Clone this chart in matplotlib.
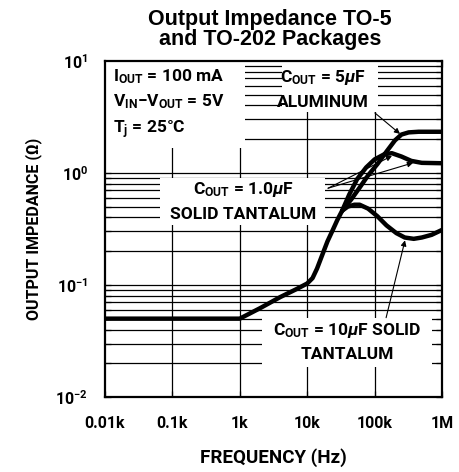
import numpy as np
import matplotlib
matplotlib.use("Agg")
import matplotlib.pyplot as plt
from matplotlib.patches import Rectangle
from matplotlib.ticker import FixedLocator, LogLocator, NullFormatter

# shared part of the curve, up to where the three capacitors split
freq_common = [10, 1000, 2000, 4000, 7000, 10000, 12000, 14000, 17000, 20000, 24000, 28000, 33000]
z_common = [0.05, 0.05, 0.062, 0.078, 0.092, 0.103, 0.115, 0.14, 0.19, 0.245, 0.31, 0.38, 0.46]

freq_10u = [33000, 40000, 50000, 60000, 80000, 110000, 150000, 210000, 280000, 380000, 500000, 700000, 1e6]
z_10u = [0.46, 0.5, 0.52, 0.52, 0.48, 0.41, 0.34, 0.29, 0.265, 0.258, 0.265, 0.28, 0.31]

freq_1u = [33000, 42000, 55000, 75000, 100000, 140000, 180000, 250000, 350000, 500000, 1e6]
z_1u = [0.46, 0.64, 0.88, 1.12, 1.32, 1.47, 1.5, 1.4, 1.28, 1.23, 1.22]

freq_5u = [33000, 45000, 60000, 80000, 110000, 150000, 200000, 250000, 320000, 450000, 1e6]
z_5u = [0.46, 0.58, 0.74, 0.95, 1.2, 1.55, 1.95, 2.2, 2.3, 2.33, 2.33]

x_ticks = [10, 100, 1000, 10000, 100000, 1e6]
x_labels = ["0.01k", "0.1k", "1k", "10k", "100k", "1M"]
y_ticks = [0.01, 0.1, 1, 10]
y_labels = [r"$\mathbf{10^{-2}}$", r"$\mathbf{10^{-1}}$", r"$\mathbf{10^{0}}$", r"$\mathbf{10^{1}}$"]

plt.rcParams["font.family"] = ["Roboto", "DejaVu Sans"]
plt.rcParams["font.weight"] = "bold"
plt.rcParams["mathtext.fontset"] = "custom"
plt.rcParams["mathtext.rm"] = "Roboto:bold"
plt.rcParams["mathtext.bf"] = "Roboto:bold"
plt.rcParams["mathtext.it"] = "Roboto:bold:italic"

fig = plt.figure(figsize=(4.6, 4.72), dpi=100)
ax = fig.add_axes([0.228, 0.159, 0.733, 0.712])
ax.set_xscale("log")
ax.set_yscale("log")
ax.set_xlim(10, 1e6)
ax.set_ylim(0.01, 10)

# grid: vertical at decades, horizontal at every minor step
for x in x_ticks[1:-1]:
    ax.axvline(x, color="black", lw=0.9, zorder=1)
for d in [0.01, 0.1, 1]:
    for m in range(1, 10):
        if d * m > 0.01:
            ax.axhline(d * m, color="black", lw=0.9, zorder=1)

# white boxes behind labels
boxes = [(0.0, 0.741, 0.415, 0.259), (0.525, 0.848, 0.285, 0.152),
         (0.163, 0.512, 0.49, 0.14), (0.466, 0.089, 0.504, 0.146)]
for bx, by, bw, bh in boxes:
    ax.add_patch(Rectangle((bx, by), bw, bh, transform=ax.transAxes,
                           facecolor="white", edgecolor="none", zorder=2))

lw = 3.2
for f, z in [(freq_common, z_common), (freq_10u, z_10u), (freq_1u, z_1u), (freq_5u, z_5u)]:
    ax.plot(f, z, color="black", lw=lw, zorder=4, solid_capstyle="round", solid_joinstyle="round")

fs = 12.5
tkw = dict(transform=ax.transAxes, fontsize=fs, fontweight="bold", zorder=5)
ax.text(0.024, 0.952, r"I$_{\mathrm{OUT}}$ = 100 mA", ha="left", va="center", **tkw)
ax.text(0.024, 0.878, r"V$_{\mathrm{IN}}$$-$V$_{\mathrm{OUT}}$ = 5V", ha="left", va="center", **tkw)
ax.text(0.024, 0.795, r"T$_{\mathrm{j}}$ = 25°C", ha="left", va="center", **tkw)

ax.text(0.647, 0.952, r"C$_{\mathrm{OUT}}$ = 5$\mathit{\mu}$F", ha="center", va="center", **tkw)
ax.text(0.647, 0.875, "ALUMINUM", ha="center", va="center", **tkw)
ax.text(0.41, 0.616, r"C$_{\mathrm{OUT}}$ = 1.0$\mathit{\mu}$F", ha="center", va="center", **tkw)
ax.text(0.41, 0.542, "SOLID TANTALUM", ha="center", va="center", **tkw)
ax.text(0.718, 0.199, r"C$_{\mathrm{OUT}}$ = 10$\mathit{\mu}$F SOLID", ha="center", va="center", **tkw)
ax.text(0.718, 0.125, "TANTALUM", ha="center", va="center", **tkw)

akw = dict(arrowstyle="-|>", lw=0.8, color="black", mutation_scale=8, shrinkA=0, shrinkB=0)
ax.annotate("", xy=(238000, 2.23), xytext=(101000, 3.43), arrowprops=akw, zorder=5)
ax.annotate("", xy=(181000, 1.42), xytext=(20400, 0.73), arrowprops=akw, zorder=5)
ax.annotate("", xy=(372000, 1.23), xytext=(20400, 0.73), arrowprops=akw, zorder=5)
ax.annotate("", xy=(282000, 0.25), xytext=(148000, 0.051), arrowprops=akw, zorder=5)

ax.xaxis.set_major_locator(FixedLocator(x_ticks))
ax.set_xticklabels(x_labels)
ax.xaxis.set_minor_locator(FixedLocator([]))
ax.yaxis.set_major_locator(FixedLocator(y_ticks))
ax.set_yticklabels(y_labels)
ax.yaxis.set_minor_locator(LogLocator(base=10, subs=np.arange(2, 10)))
ax.yaxis.set_minor_formatter(NullFormatter())
ax.tick_params(axis="both", which="both", direction="in", length=4, width=0.9,
               labelsize=11.5, top=True, right=True)
ax.tick_params(axis="x", pad=14)
ax.tick_params(axis="y", pad=12)
for s in ax.spines.values():
    s.set_linewidth(1.6)
    s.set_zorder(6)

ax.set_xlabel("FREQUENCY (Hz)", fontsize=13.5, fontweight="bold", labelpad=12)
ax.set_ylabel("OUTPUT IMPEDANCE (Ω)", fontsize=11.5, fontweight="bold", labelpad=10)
fig.text(0.587, 0.938, "Output Impedance TO-5\nand TO-202 Packages", ha="center", va="center",
         fontsize=15.5, fontweight="bold", family=["Liberation Sans", "DejaVu Sans"],
         linespacing=0.95)

fig.savefig("out.png", dpi=100)
